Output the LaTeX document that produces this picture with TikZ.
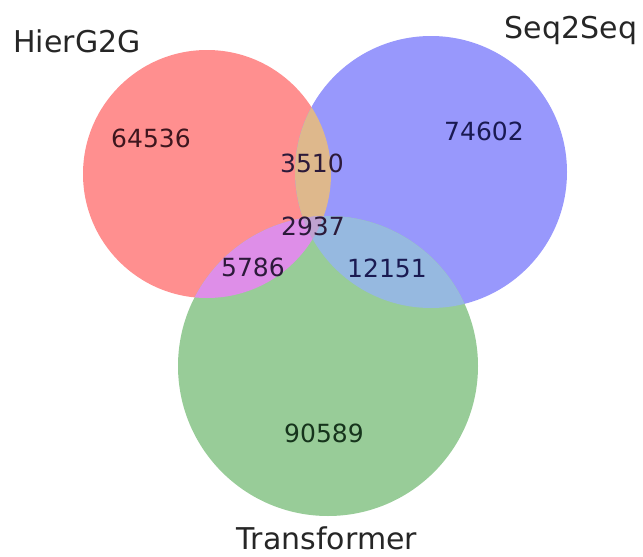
\documentclass[tikz,border=0pt]{standalone}
\usepackage{fontspec}
\setmainfont{DejaVu Sans}
\definecolor{setA}{RGB}{255,143,143}
\definecolor{setB}{RGB}{152,152,252}
\definecolor{setC}{RGB}{152,204,152}
\definecolor{setAB}{RGB}{222,184,140}
\definecolor{setAC}{RGB}{222,142,232}
\definecolor{setBC}{RGB}{150,185,224}
\definecolor{setABC}{RGB}{192,162,208}
\definecolor{inkA}{RGB}{62,22,30}
\definecolor{inkB}{RGB}{26,26,82}
\definecolor{inkC}{RGB}{22,52,28}
\definecolor{inkX}{RGB}{44,26,58}

\begin{document}
\begin{tikzpicture}[
  x=1pt, y=-1pt,
  count/.style={font=\fontsize{25}{30}\selectfont},
  setlabel/.style={anchor=base, inner sep=0pt, font=\fontsize{30}{36}\selectfont, text=black!85}
]
\useasboundingbox (0,0) rectangle (643,557);
\coordinate (cA) at (207,174);
\coordinate (cB) at (431,172);
\coordinate (cC) at (328,366);

%% ---- sets ----
\fill[setA] (cA) circle[radius=124pt];
\fill[setB] (cB) circle[radius=136pt];
\fill[setC] (cC) circle[radius=150pt];

%% ---- overlaps ----
\begin{scope}
  \clip (cA) circle[radius=124pt];
  \fill[setAB] (cB) circle[radius=136pt];
  \fill[setAC] (cC) circle[radius=150pt];
\end{scope}
\begin{scope}
  \clip (cB) circle[radius=136pt];
  \fill[setBC] (cC) circle[radius=150pt];
\end{scope}
\begin{scope}
  \clip (cA) circle[radius=124pt];
  \clip (cB) circle[radius=136pt];
  \fill[setABC] (cC) circle[radius=150pt];
\end{scope}

%% ---- counts ----
\node[count, text=inkA] (onlyA)  at (151,138) {64536};
\node[count, text=inkB] (onlyB)  at (484,131) {74602};
\node[count, text=inkC] (onlyC)  at (324,433) {90589};
\node[count, text=inkX] (nAB)    at (312,163) {3510};
\node[count, text=inkX] (nABC)   at (313,226) {2937};
\node[count, text=inkX] (nAC)    at (253,267) {5786};
\node[count, text=inkB] (nBC)    at (387,268) {12151};

%% ---- set names ----
\node[setlabel] (hier)  at (77,52)   {HierG2G};
\node[setlabel] (seq)   at (571,38)  {Seq2Seq};
\node[setlabel] (trans) at (327,549) {Transformer};
\end{tikzpicture}
\end{document}
